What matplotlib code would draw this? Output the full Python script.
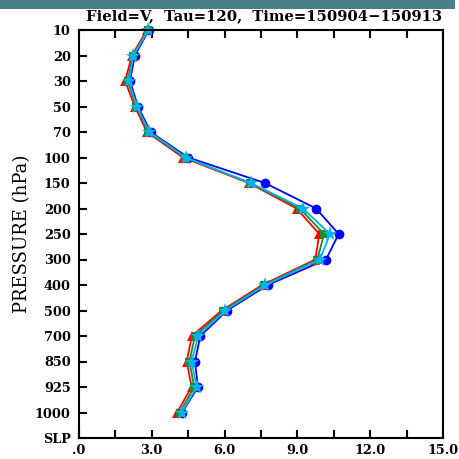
import matplotlib
matplotlib.use("Agg")
import matplotlib.pyplot as plt
import numpy as np

levels = ["10", "20", "30", "50", "70", "100", "150", "200", "250", "300",
          "400", "500", "700", "850", "925", "1000", "SLP"]
plot_levels = levels[:16]

blue_vals  = [2.88, 2.30, 2.10, 2.43, 2.95, 4.50, 7.66, 9.77, 10.70, 10.18, 7.78, 6.10, 5.00, 4.78, 4.90, 4.25]
red_vals   = [2.80, 2.18, 1.90, 2.30, 2.80, 4.28, 7.00, 8.97, 9.90, 9.74, 7.55, 5.88, 4.65, 4.44, 4.64, 4.04]
green_vals = [2.84, 2.22, 2.00, 2.36, 2.86, 4.35, 7.05, 9.10, 10.10, 9.82, 7.62, 5.95, 4.78, 4.55, 4.75, 4.15]
cyan_vals  = [2.86, 2.24, 2.05, 2.38, 2.90, 4.40, 7.09, 9.23, 10.34, 9.93, 7.68, 6.02, 4.92, 4.64, 4.85, 4.23]

xticks = [0, 3, 6, 9, 12, 15]
xticklabels = [".0", "3.0", "6.0", "9.0", "12.0", "15.0"]

fig = plt.figure(figsize=(4.59, 4.59), dpi=100)
ax = fig.add_axes([79/459, 1 - 438/459, (443-79)/459, (438-30)/459])

ypos = np.arange(len(plot_levels))
series = [
    (blue_vals, "#0000ff", "o", 7),
    (red_vals, "#ff0000", "^", 7),
    (green_vals, "#228b22", "s", 6),
    (cyan_vals, "#00b4f0", "*", 11),
]
for vals, c, m, ms in series:
    ax.plot(vals, ypos, color=c, marker=m, markersize=ms, linewidth=1.3,
            markeredgewidth=0, clip_on=False)

ax.set_xlim(0, 15)
ax.set_ylim(len(levels) - 1, 0)
ax.set_yticks(np.arange(len(levels)))
ax.set_yticklabels(levels, fontfamily="DejaVu Serif", fontweight="bold", fontsize=9.3)
ax.set_xticks(xticks)
ax.set_xticklabels(xticklabels, fontfamily="DejaVu Serif", fontweight="bold", fontsize=9.3)
ax.set_xticks(np.arange(0, 15.01, 1.5), minor=True)
ax.tick_params(axis="x", which="both", direction="in", top=True, length=6, width=1.5, pad=4)
ax.tick_params(axis="y", which="both", direction="in", length=6, width=1.5, pad=6)
for s in ax.spines.values():
    s.set_linewidth(1.5)

ax.set_ylabel("PRESSURE (hPa)", fontfamily="DejaVu Serif", fontsize=13, labelpad=3)

fig.text(264/459, 1 - 16/459, "Field=V,  Tau=120,  Time=150904\u2212150913",
         ha="center", va="center", fontfamily="DejaVu Serif", fontweight="bold", fontsize=10.6)

fig.patches.append(plt.Rectangle((0, 1 - 9/459), 455/459, 9/459, transform=fig.transFigure,
                                 facecolor="#4a8088", edgecolor="none"))

fig.savefig("out.png", dpi=100)
